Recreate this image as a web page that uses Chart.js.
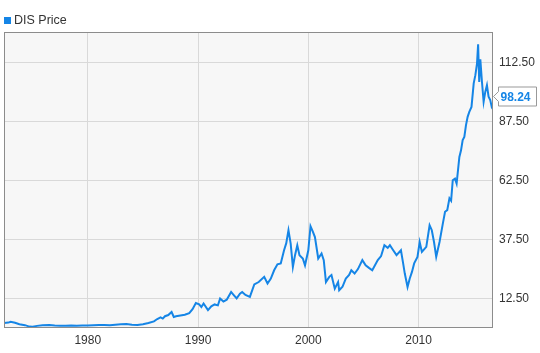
<!DOCTYPE html>
<html>
<head>
<meta charset="utf-8">
<script src="https://cdn.jsdelivr.net/npm/chart.js@4.4.1/dist/chart.umd.min.js"></script>
<style>
  body { margin: 0; background: #fff; font-family: "Liberation Sans", Arial, sans-serif; }
  #wrap { position: relative; width: 540px; height: 353px; }
  #legend { position: absolute; left: 4px; top: 13px; font-size: 12.5px; color: #333; line-height: 14px; }
  #legend .box { display: inline-block; width: 7px; height: 7px; background: #1585e6; margin-right: 3px; vertical-align: 0px; }
  canvas { position: absolute; left: 0; top: 0; }
</style>
</head>
<body>
<div id="wrap">
  <canvas id="chart" width="540" height="353"></canvas>
  <div id="legend"><span class="box"></span>DIS Price</div>
</div>
<script>
const seriesName = "DIS Price";
const lastPrice = 98.24;
const xTicks = [1980, 1990, 2000, 2010];
const yTicks = [12.5, 37.5, 62.5, 87.5, 112.5];

const years = [
  1972.4, 1972.8, 1973.0, 1973.4, 1973.8, 1974.3, 1974.7, 1975.0, 1975.4, 1975.9,
  1976.5, 1977.0, 1977.5, 1978.0, 1978.5, 1979.0, 1979.5, 1980.0, 1980.5, 1981.0,
  1981.5, 1982.0, 1982.5, 1983.0, 1983.5, 1984.0, 1984.5, 1985.0, 1985.5, 1986.0,
  1986.3, 1986.6, 1986.8, 1987.0, 1987.3, 1987.6, 1987.8, 1988.0, 1988.4, 1988.8,
  1989.2, 1989.5, 1989.8, 1990.1, 1990.3, 1990.5, 1990.9, 1991.2, 1991.5, 1991.8,
  1992.0, 1992.3, 1992.6, 1993.0, 1993.2, 1993.5, 1993.8, 1994.0, 1994.3, 1994.7,
  1995.1, 1995.5, 1996.0, 1996.3, 1996.6, 1996.9, 1997.2, 1997.5, 1997.8, 1998.0,
  1998.2, 1998.4, 1998.6, 1998.8, 1999.0, 1999.2, 1999.5, 1999.7, 2000.0, 2000.2,
  2000.4, 2000.6, 2000.9, 2001.2, 2001.4, 2001.6, 2001.9, 2002.1, 2002.4, 2002.7,
  2002.8, 2003.1, 2003.4, 2003.7, 2003.9, 2004.2, 2004.5, 2004.9, 2005.2, 2005.5,
  2005.8, 2006.3, 2006.6, 2006.9, 2007.2, 2007.4, 2007.7, 2008.0, 2008.4, 2008.6,
  2008.75, 2009.0, 2009.2, 2009.4, 2009.6, 2009.9, 2010.1, 2010.3, 2010.7, 2011.0,
  2011.2, 2011.4, 2011.6, 2011.9, 2012.2, 2012.4, 2012.6, 2012.8, 2012.95, 2013.1,
  2013.3, 2013.45, 2013.7, 2013.85, 2014.0, 2014.15, 2014.3, 2014.45, 2014.6, 2014.8,
  2015.0, 2015.15, 2015.3, 2015.4, 2015.5, 2015.6, 2015.75, 2015.9, 2016.05, 2016.2,
  2016.35, 2016.5, 2016.65, 2016.75
];
const prices = [
  2.1, 2.3, 2.6, 2.2, 1.6, 1.2, 0.6, 0.5, 0.9, 1.2,
  1.3, 1.1, 1.0, 1.0, 1.1, 1.0, 1.1, 1.1, 1.2, 1.3,
  1.3, 1.2, 1.4, 1.6, 1.7, 1.4, 1.3, 1.6, 2.1, 2.8,
  3.8, 4.5, 4.0, 5.0, 5.5, 6.8, 4.7, 5.0, 5.3, 5.6,
  6.3, 8.0, 10.6, 10.0, 8.9, 10.4, 7.6, 9.2, 10.0, 9.6,
  12.5, 11.2, 12.0, 15.3, 14.2, 12.6, 14.6, 15.3, 14.0, 13.2,
  18.5, 19.5, 21.7, 18.9, 21.0, 24.5, 27.0, 27.4, 33.0, 36.0,
  41.5, 35.8, 25.9, 31.0, 35.1, 30.9, 29.5, 26.6, 33.0, 43.2,
  41.0, 38.6, 29.5, 31.6, 28.8, 19.5, 21.7, 22.5, 16.7, 19.5,
  16.0, 17.5, 21.0, 22.5, 24.5, 23.1, 25.0, 28.8, 26.6, 25.5,
  24.5, 28.8, 30.5, 35.1, 34.0, 35.1, 33.0, 30.9, 33.0, 27.4,
  23.1, 17.4, 21.0, 23.8, 27.4, 30.2, 36.5, 32.3, 34.4, 43.6,
  41.5, 36.5, 30.2, 36.5, 44.3, 49.3, 50.0, 55.0, 54.0, 62.7,
  63.4, 61.3, 72.6, 75.4, 79.7, 81.1, 86.1, 89.6, 91.7, 93.8,
  103.8, 107.3, 112.2, 120.4, 104.4, 114.0, 104.4, 96.0, 100.2, 103.0,
  98.1, 96.7, 93.5, 92.8
];

const lineColor = "#1585e6";

// plot background, frame and last-price tag
const framePlugin = {
  id: "frame",
  beforeDraw(chart) {
    const { ctx, chartArea: a } = chart;
    ctx.save();
    ctx.fillStyle = "#f7f7f7";
    ctx.fillRect(a.left, a.top, a.right - a.left, a.bottom - a.top);
    ctx.restore();
  },
  afterDraw(chart) {
    const { ctx, chartArea: a } = chart;
    ctx.save();
    ctx.strokeStyle = "#8c8c8c";
    ctx.lineWidth = 1;
    ctx.strokeRect(a.left + 0.5, a.top + 0.5, a.right - a.left - 1, a.bottom - a.top - 1);

    const y = Math.round(chart.scales.y.getPixelForValue(lastPrice)) + 0.5;
    const x0 = a.right + 0.5, bx = x0 + 5, bw = 38, bh = 19;
    ctx.beginPath();
    ctx.moveTo(x0, y);
    ctx.lineTo(bx, y - 5);
    ctx.lineTo(bx, y - bh / 2);
    ctx.lineTo(bx + bw, y - bh / 2);
    ctx.lineTo(bx + bw, y + bh / 2);
    ctx.lineTo(bx, y + bh / 2);
    ctx.lineTo(bx, y + 5);
    ctx.closePath();
    ctx.fillStyle = "#fff";
    ctx.fill();
    ctx.strokeStyle = "#999";
    ctx.stroke();
    ctx.fillStyle = lineColor;
    ctx.font = "bold 12px 'Liberation Sans', Arial, sans-serif";
    ctx.textBaseline = "middle";
    ctx.fillText(lastPrice.toFixed(2), bx + 2, y + 1);
    ctx.restore();
  }
};

new Chart(document.getElementById("chart"), {
  type: "line",
  data: {
    datasets: [{
      label: seriesName,
      data: years.map((yr, i) => ({ x: yr, y: prices[i] })),
      borderColor: lineColor,
      borderWidth: 2,
      pointRadius: 0,
      tension: 0,
      fill: false
    }]
  },
  options: {
    responsive: false,
    animation: false,
    layout: { padding: { top: 32, left: 4, right: 0, bottom: 0 } },
    plugins: {
      legend: { display: false },
      tooltip: { enabled: false }
    },
    scales: {
      x: {
        type: "linear",
        min: 1972.4,
        max: 2016.75,
        afterBuildTicks: s => { s.ticks = xTicks.map(v => ({ value: v })); },
        afterFit: s => { s.height = 25; },
        ticks: {
          color: "#333",
          font: { family: "'Liberation Sans', Arial, sans-serif", size: 12 },
          padding: 5,
          maxRotation: 0,
          callback: v => String(v)
        },
        grid: { color: "#d9d9d9", drawTicks: false },
        border: { display: false }
      },
      y: {
        position: "right",
        min: 0,
        max: 125.6,
        afterBuildTicks: s => { s.ticks = yTicks.map(v => ({ value: v })); },
        afterFit: s => { s.width = 47; },
        ticks: {
          color: "#333",
          font: { family: "'Liberation Sans', Arial, sans-serif", size: 12 },
          padding: 6,
          callback: v => v.toFixed(2)
        },
        grid: { color: "#d9d9d9", drawTicks: false },
        border: { display: false }
      }
    }
  },
  plugins: [framePlugin]
});
</script>
</body>
</html>
